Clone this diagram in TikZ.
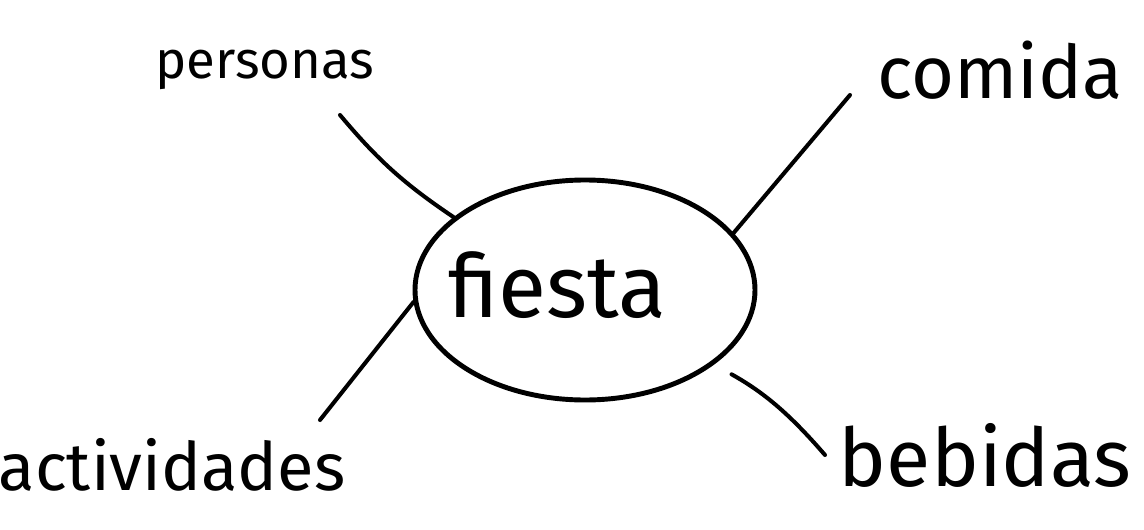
\documentclass[tikz,border=0pt]{standalone}
\usepackage{fontspec}
\setmainfont{Fira Sans}
\usepackage{tikz}
\usetikzlibrary{shapes.geometric}

\begin{document}
\begin{tikzpicture}[leaf/.style={inner sep=0pt},
    branch/.style={line width=2.3pt, line cap=round}]
  \useasboundingbox (0,0) rectangle (22.88,10.58);
  % centre
  \node[draw, ellipse, line width=2.8pt, minimum width=6.8cm,
        minimum height=4.4cm, inner sep=0pt] (fiesta) at (11.7,4.78) {};
  \node[leaf, font=\fontsize{50}{54}\selectfont] (fiestaname)
        at ([xshift=-0.55cm, yshift=0.1cm]fiesta.center) {fiesta};
  % the four ideas
  \node[leaf, font=\fontsize{30}{34}\selectfont] (personas) at (5.3,9.18) {personas};
  \node[leaf, font=\fontsize{42}{46}\selectfont] (comida) at (20.0,9.18) {comida};
  \node[leaf, font=\fontsize{38}{42}\selectfont] (actividades) at (3.44,1.28) {actividades};
  \node[leaf, font=\fontsize{46}{50}\selectfont] (bebidas) at (19.7,1.48) {bebidas};
  \coordinate (pe) at (6.8,8.28);
  \coordinate (co) at (17.0,8.68);
  \coordinate (ac) at (6.4,2.18);
  \coordinate (be) at (16.5,1.48);
  \draw[branch] (fiesta.151) to[bend left=8] (pe);
  \draw[branch] (fiesta.21) -- (co);
  \draw[branch] (fiesta.184) -- (ac);
  \draw[branch, shorten <=0.4cm] (fiesta.-30) to[bend left=10] (be);
\end{tikzpicture}
\end{document}
